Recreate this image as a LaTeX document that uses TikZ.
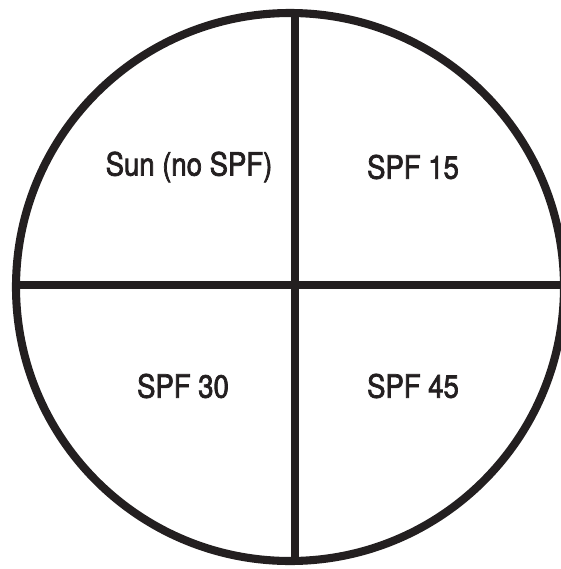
\documentclass[tikz,border=0pt]{standalone}
\usepackage{fontspec}
\setmainfont[FakeStretch=0.86, FakeBold=2.2]{TeX Gyre Heros}
\definecolor{inkblack}{RGB}{35,31,32}
\usetikzlibrary{positioning}

\begin{document}
\begin{tikzpicture}[x=0.02cm, y=-0.02cm,
  divider/.style={draw=inkblack, line width=4.6pt},
  label/.style={font=\fontsize{18.2}{20}\selectfont, text=inkblack, inner sep=0pt}]

% Page frame
\useasboundingbox (0,0) rectangle (561,569);
\clip (0,0) rectangle (561,569);

% Dish outline and cross
\draw[divider] (290,287) circle (274);
\draw[divider] (16,285) -- (564,285);
\draw[divider] (295,13) -- (295,561);

% Quadrant labels
\node[label] (sun)   at (189,167) {Sun (no SPF)};
\node[label] (spf15) at (413,167) {SPF 15};
\node[label] (spf30) at (183,386) {SPF 30};
\node[label] (spf45) at (413,386) {SPF 45};

\end{tikzpicture}
\end{document}
